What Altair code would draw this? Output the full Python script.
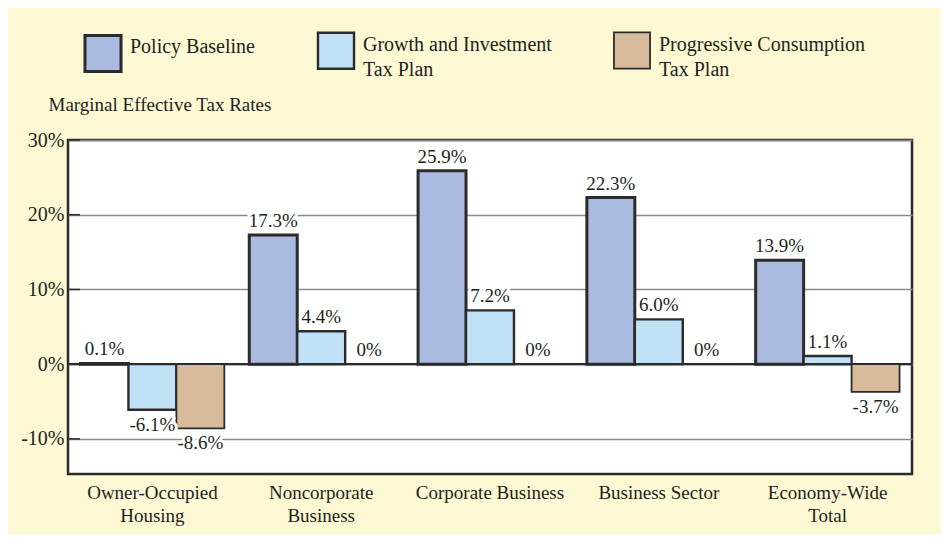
import altair as alt
import pandas as pd

categories = ["Owner-Occupied|Housing", "Noncorporate|Business", "Corporate Business",
              "Business Sector", "Economy-Wide|Total"]
plans = ["Policy Baseline", "Growth and Investment|Tax Plan", "Progressive Consumption|Tax Plan"]
baseline = [0.1, 17.3, 25.9, 22.3, 13.9]
growth = [-6.1, 4.4, 7.2, 6.0, 1.1]
progressive = [-8.6, 0.0, 0.0, 0.0, -3.7]
y_ticks = [-10, 0, 10, 20, 30]
colors = ["#aabbdf", "#c1e2f6", "#d8bb9a"]

FONT = "Liberation Serif"
INK = "#231f20"

rows = []
for series, plan in zip([baseline, growth, progressive], plans):
    for cat, v in zip(categories, series):
        lab = "0%" if v == 0 else f"{v:.1f}%"
        rows.append({"category": cat, "plan": plan, "value": v, "label": lab})
df = pd.DataFrame(rows)

x = alt.X("category:N", sort=categories, title=None,
          scale=alt.Scale(paddingInner=0, paddingOuter=0),
          axis=alt.Axis(labelExpr="split(datum.label, '|')", labelAngle=0, ticks=False,
                        domain=False, labelPadding=9, labelFontSize=19,
                        labelLineHeight=23, labelColor=INK, labelFont=FONT,
                        labelBaseline="top", labelLimit=300))
xo = alt.XOffset("plan:N", sort=plans,
                 scale=alt.Scale(paddingInner=0, paddingOuter=0.26))
y = alt.Y("value:Q", scale=alt.Scale(domain=[-14.7, 30], nice=False, zero=False),
          title="Marginal Effective Tax Rates",
          axis=alt.Axis(values=y_ticks, labelExpr="datum.value + '%'", ticks=False,
                        domain=False, grid=True, gridColor="#8a8a8a", gridWidth=1.5,
                        gridOpacity=1, labelPadding=4, labelFontSize=20,
                        labelColor=INK, labelFont=FONT, labelLineHeight=20,
                        titleAngle=0, titleAlign="left", titleBaseline="alphabetic",
                        titleX=-20, titleY=-30, titleFontSize=19,
                        titleFontWeight="normal", titleColor=INK, titleFont=FONT))

base = alt.Chart(df)

zero_rule = alt.Chart(pd.DataFrame({"v": [0]})).mark_rule(
    color="#2b2b2b", strokeWidth=2.2).encode(y=alt.Y("v:Q"))

tick_marks = alt.Chart(pd.DataFrame({"t": y_ticks})).mark_rule(
    color="#2b2b2b", strokeWidth=1.5).encode(
    y=alt.Y("t:Q"), x=alt.value(0), x2=alt.value(12))

bars = base.mark_bar(stroke="#2b2b2b").encode(
    x=x, xOffset=xo, y=y,
    color=alt.Color("plan:N", sort=plans,
                    scale=alt.Scale(domain=plans, range=colors),
                    legend=alt.Legend(title=None, orient="none", legendX=15, legendY=-109,
                                      direction="horizontal", columns=3,
                                      columnPadding=58, symbolType="square",
                                      symbolSize=1300, symbolStrokeColor="#2b2b2b",
                                      symbolStrokeWidth=2.5, symbolOpacity=1,
                                      labelExpr="split(datum.label, '|')",
                                      labelBaseline="alphabetic",
                                      labelFontSize=20, labelFont=FONT, labelColor=INK,
                                      labelOffset=7, labelLimit=400)),
    strokeWidth=alt.StrokeWidth("plan:N", sort=plans,
                                scale=alt.Scale(domain=plans, range=[3, 1.8, 1.8]),
                                legend=None),
)

pos = base.transform_filter("datum.value >= 0")
neg = base.transform_filter("datum.value < 0")

def labels(src, baseline_, dy):
    enc = dict(x=alt.X("category:N", sort=categories), xOffset=alt.XOffset("plan:N", sort=plans),
               y=alt.Y("value:Q"), text="label:N")
    halo = src.mark_text(baseline=baseline_, dy=dy, fontSize=19, font=FONT,
                         stroke="white", strokeWidth=6, strokeJoin="round",
                         color="white").encode(**enc)
    txt = src.mark_text(baseline=baseline_, dy=dy, fontSize=19, font=FONT,
                        color=INK).encode(**enc)
    return halo + txt

chart = alt.layer(
    tick_marks, zero_rule, bars,
    labels(pos, "alphabetic", -8),
    labels(neg, "top", 6),
).properties(
    width=844, height=334,
    autosize=alt.AutoSizeParams(type="none"),
    padding={"left": 60, "top": 132, "right": 29, "bottom": 60},
    background="#fef9d4",
).configure(
    view=alt.ViewConfig(fill="white", stroke="#2b2b2b", strokeWidth=2.5),
    style={"guide-label": {"lineHeight": 25}},
)

chart.save("out.html", embed_options={"renderer": "svg", "actions": False})
